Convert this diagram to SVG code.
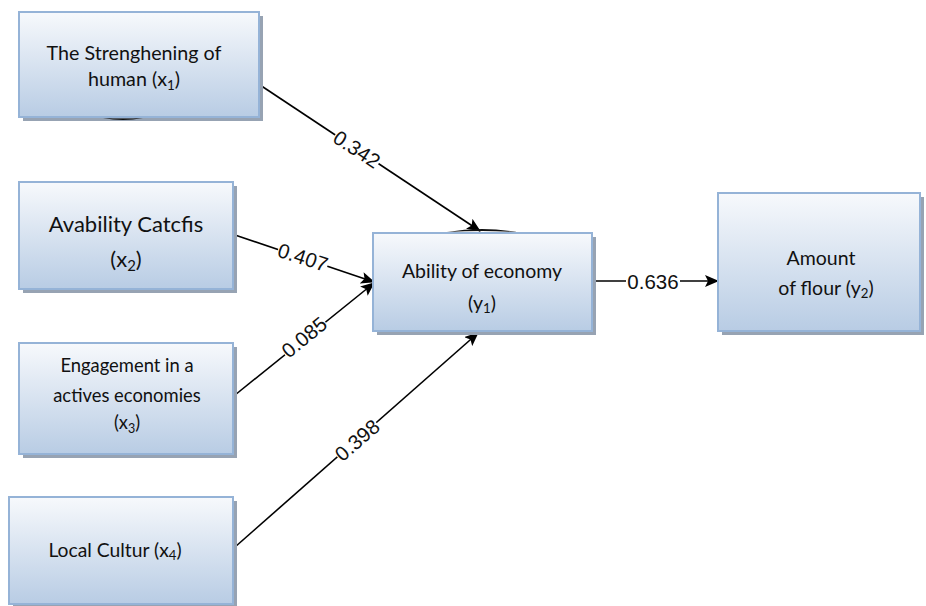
<svg xmlns="http://www.w3.org/2000/svg" width="926" height="606" viewBox="0 0 926 606">
  <defs>
    <linearGradient id="boxFill" x1="0" y1="0" x2="0" y2="1">
      <stop offset="0" stop-color="#f7f9fc"/>
      <stop offset="1" stop-color="#b8cce4"/>
    </linearGradient>
    <marker id="arrow" markerUnits="userSpaceOnUse" markerWidth="14" markerHeight="12" refX="13" refY="6" orient="auto">
      <path d="M0,0 L14,6 L0,12 L3,6 Z" fill="#000"/>
    </marker>
    <style>
      .shadow { fill: #97a3b3; }
      .box { fill: url(#boxFill); stroke: #95b3d7; stroke-width: 2; }
      .lbl { font-family: Lato, "Open Sans", sans-serif; fill: #111; text-anchor: middle; }
      .edge { stroke: #000; stroke-width: 1.6; fill: none; marker-end: url(#arrow); }
      .coef { font-family: "Liberation Sans", Arial, sans-serif; font-size: 20.5px; fill: #111; text-anchor: middle; }
      .sub { font-size: 0.68em; }
    </style>
  </defs>

  <!-- connectors -->
  <g id="connectors">
    <line class="edge" x1="260" y1="85" x2="480" y2="231"/>
    <line class="edge" x1="235" y1="235" x2="374" y2="282"/>
    <line class="edge" x1="235" y1="395" x2="374" y2="283"/>
    <line class="edge" x1="235" y1="547" x2="478" y2="333"/>
    <line class="edge" x1="592" y1="281" x2="718" y2="281"/>

    <!-- coefficient labels on white backing -->
    <g transform="translate(357,149) rotate(33.4)">
      <rect x="-26" y="-10" width="52" height="20" fill="#fff"/>
      <text class="coef" y="7.5">0.342</text>
    </g>
    <g transform="translate(303,257) rotate(18)">
      <rect x="-26" y="-10" width="52" height="20" fill="#fff"/>
      <text class="coef" y="7.5">0.407</text>
    </g>
    <g transform="translate(304,337) rotate(-39)">
      <rect x="-26" y="-10" width="52" height="20" fill="#fff"/>
      <text class="coef" y="7.5">0.085</text>
    </g>
    <g transform="translate(357,440) rotate(-41)">
      <rect x="-26" y="-10" width="52" height="20" fill="#fff"/>
      <text class="coef" y="7.5">0.398</text>
    </g>
    <g transform="translate(653,281)">
      <rect x="-27" y="-10" width="54" height="20" fill="#fff"/>
      <text class="coef" y="7.5">0.636</text>
    </g>
  </g>

  <!-- x1 -->
  <g id="node-x1">
    <rect class="shadow" x="23" y="16" width="240" height="105"/>
    <rect class="box" x="19" y="12" width="240" height="105"/>
    <path d="M103,118 Q123,122 143,118 Q123,119 103,118 Z" fill="#111"/>
    <text class="lbl" x="134" y="60" font-size="19.7">The Strenghening of</text>
    <text class="lbl" x="134" y="86" font-size="19.7">human (x<tspan class="sub" dy="4">1</tspan><tspan dy="-4">)</tspan></text>
  </g>

  <!-- x2 -->
  <g id="node-x2">
    <rect class="shadow" x="23" y="186" width="214" height="107"/>
    <rect class="box" x="19" y="182" width="214" height="107"/>
    <text class="lbl" x="126" y="232" font-size="22">Avability Catcfis</text>
    <text class="lbl" x="126" y="267" font-size="22">(x<tspan class="sub" dy="4">2</tspan><tspan dy="-4">)</tspan></text>
  </g>

  <!-- x3 -->
  <g id="node-x3">
    <rect class="shadow" x="23" y="347" width="214" height="111"/>
    <rect class="box" x="19" y="343" width="214" height="111"/>
    <text class="lbl" x="127" y="372" font-size="18.4">Engagement in a</text>
    <text class="lbl" x="127" y="402" font-size="18.4">actives economies</text>
    <text class="lbl" x="127" y="429" font-size="18.4">(x<tspan class="sub" dy="4">3</tspan><tspan dy="-4">)</tspan></text>
  </g>

  <!-- x4 -->
  <g id="node-x4">
    <rect class="shadow" x="13" y="501" width="224" height="107"/>
    <rect class="box" x="9" y="497" width="224" height="107"/>
    <text class="lbl" x="115" y="557" font-size="19.3">Local Cultur (x<tspan class="sub" dy="3">4</tspan><tspan dy="-3">)</tspan></text>
  </g>

  <!-- y1 -->
  <g id="node-y1">
    <rect class="shadow" x="377" y="237" width="219" height="98"/>
    <rect class="box" x="373" y="233" width="219" height="98"/>
    <path d="M447,232 Q482,226 517,232 Q482,230 447,232 Z" fill="#111"/>
    <text class="lbl" x="482" y="278" font-size="19.5">Ability of economy</text>
    <text class="lbl" x="482" y="310" font-size="19.5">(y<tspan class="sub" dy="3">1</tspan><tspan dy="-3">)</tspan></text>
  </g>

  <!-- y2 -->
  <g id="node-y2">
    <rect class="shadow" x="722" y="197" width="202" height="138"/>
    <rect class="box" x="718" y="193" width="202" height="138"/>
    <text class="lbl" x="821" y="265" font-size="19.5">Amount</text>
    <text class="lbl" x="826" y="295" font-size="19.5">of flour (y<tspan class="sub" dy="3">2</tspan><tspan dy="-3">)</tspan></text>
  </g>
</svg>
